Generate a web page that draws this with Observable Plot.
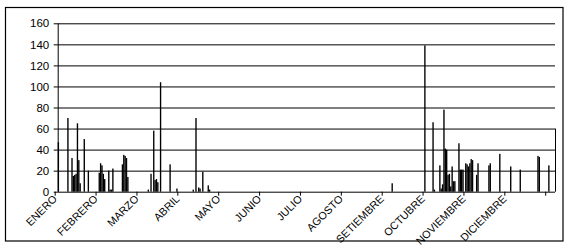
<!DOCTYPE html>
<html>
<head>
<meta charset="utf-8">
<script src="https://cdn.jsdelivr.net/npm/d3@7"></script>
<script src="https://cdn.jsdelivr.net/npm/@observablehq/plot@0.6"></script>
<style>
  html, body { margin: 0; padding: 0; background: #fff; }
  #chart { position: relative; width: 574px; height: 249px; }
</style>
</head>
<body>
<div id="chart"></div>
<script>
const months = ["ENERO","FEBRERO","MARZO","ABRIL","MAYO","JUNIO","JULIO","AGOSTO","SETIEMBRE","OCTUBRE","NOVIEMBRE","DICIEMBRE"];
const monthTicks = [0,30,60,90,120,150,180,210,240,270,300,330,360];
const yTicks = [0,20,40,60,80,100,120,140,160];
const rainDays = [0,7,10,11,12,13,14,15,16,19,22,30,31,32,33,34,37,38,39,40,47,48,49,50,51,66,68,70,71,72,73,75,82,87,99,101,103,104,106,110,111,245,269,275,276,280,281,282,283,284,285,286,287,288,289,290,291,294,295,296,297,299,300,301,302,303,304,307,308,316,317,324,332,339,352,353,360];
const rainValues = [47,70,32,15,16,17,65,30,8,50,20,18,27,25,17,12,20,2,2,22,26,35,34,32,14,2,17,58,11,12,9,104,26,3,2,70,4,3,19,6,2,8,139,66,2,25,3,7,78,41,40,16,17,5,24,10,10,46,21,21,21,27,26,24,27,31,30,16,27,25,27,36,24,21,34,33,25];
const daysInYear = 365;

const data = rainDays.map((d, i) => ({day: d, value: rainValues[i]}));

const chart = Plot.plot({
  width: 574,
  height: 249,
  marginLeft: 57.7,
  marginRight: 19,
  marginTop: 23.3,
  marginBottom: 57.3,
  style: {fontFamily: "'Liberation Sans', Arial, sans-serif", fontSize: "11.5px", color: "#000", background: "#fff"},
  x: {type: "linear", domain: [0, daysInYear], axis: null},
  y: {type: "linear", domain: [0, 160], axis: null},
  marks: [
    Plot.gridY(yTicks.filter(v => v > 0), {stroke: "#000", strokeOpacity: 1, strokeWidth: 1}),
    Plot.axisY(yTicks, {tickSize: 4, tickPadding: 5, stroke: "#000", fontSize: 11.5, label: null}),
    Plot.axisX(monthTicks, {tickSize: 4, tickPadding: 1, tickRotate: -45, tickFormat: d => months[monthTicks.indexOf(d)] ?? "", stroke: "#000", fill: "#000", fontSize: 10.8, label: null, dx: -3}),
    Plot.rectY(data, {x1: "day", x2: d => d.day + 1, y: "value", fill: "#000", insetLeft: 0, insetRight: 0}),
    Plot.ruleX([0], {y1: 0, y2: 160, stroke: "#000"}),
    Plot.ruleX([daysInYear], {y1: 0, y2: 60, stroke: "#000"}),
    Plot.ruleY([0], {stroke: "#000"})
  ]
});
document.getElementById("chart").appendChild(chart);
d3.select(chart).append("rect")
  .attr("x", 5.5).attr("y", 7.5).attr("width", 557.5).attr("height", 233.5)
  .attr("fill", "none").attr("stroke", "#000").attr("stroke-width", 1.2);
</script>
</body>
</html>
